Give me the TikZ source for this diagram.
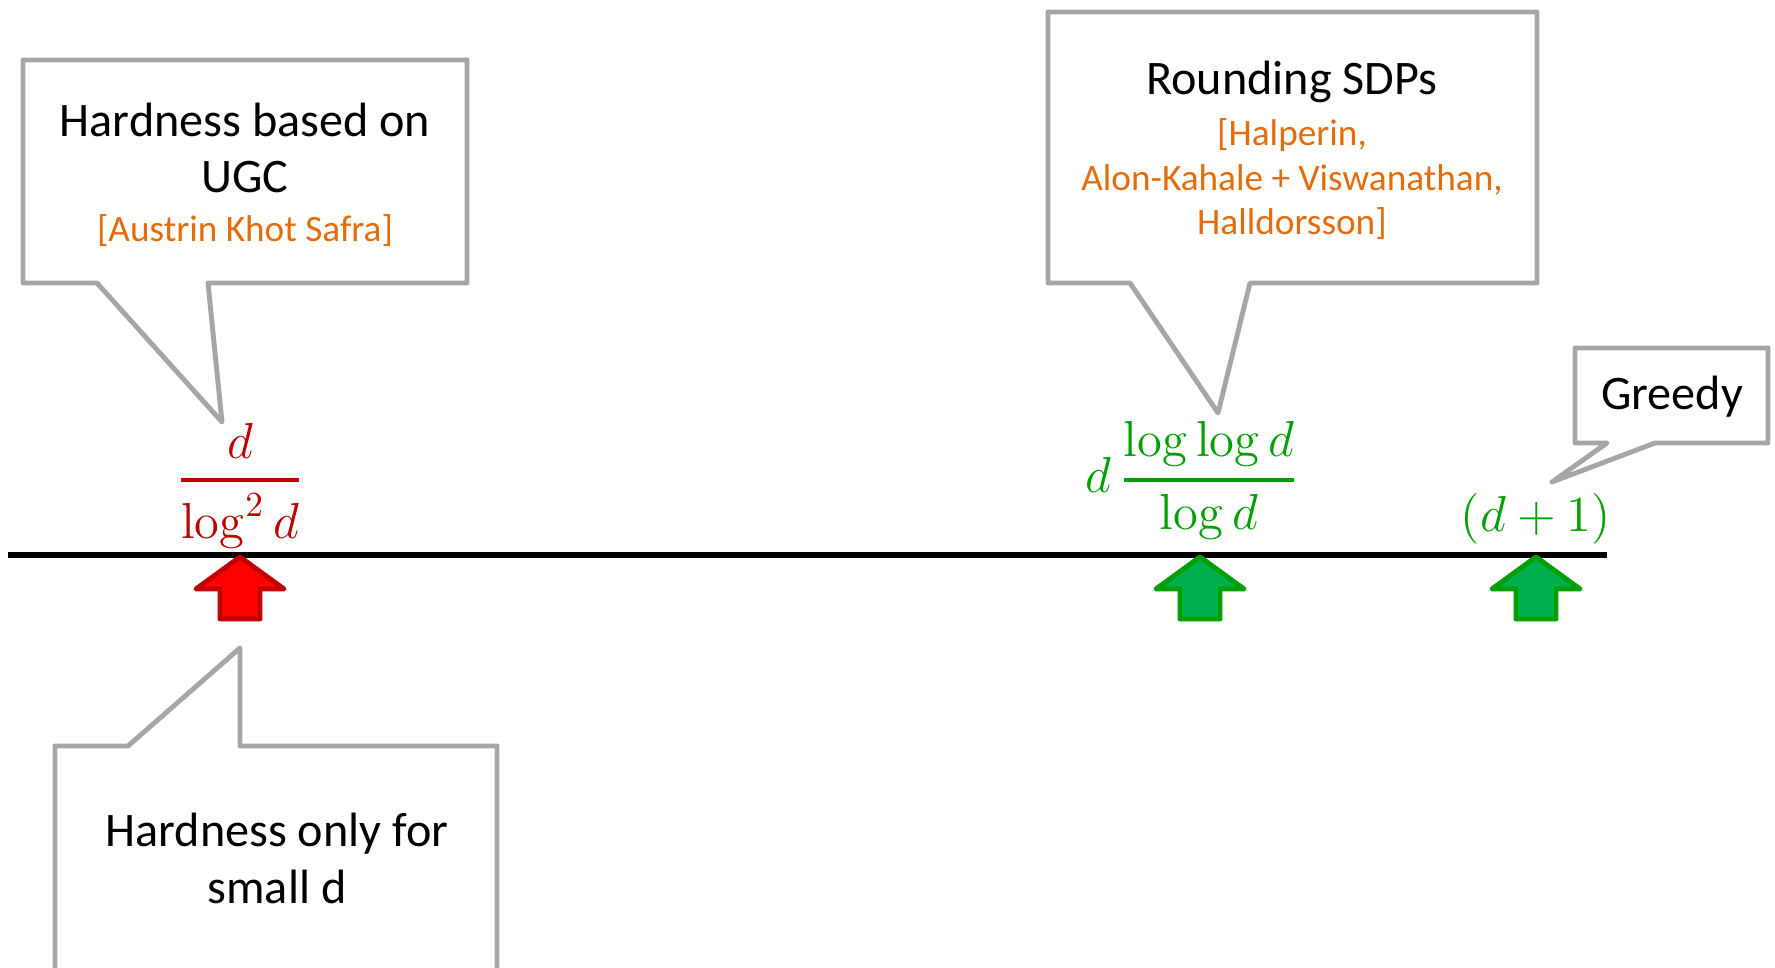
\documentclass[tikz,border=0pt]{standalone}
\usepackage{amsmath}
\usepackage[no-math]{fontspec}
\setmainfont{Carlito}
\definecolor{callgray}{HTML}{A6A6A6}
\definecolor{refor}{HTML}{E46C0A}
\definecolor{mred}{HTML}{C00000}
\definecolor{mgreen}{HTML}{00A000}
\definecolor{afillg}{HTML}{00B050}
\definecolor{alineg}{HTML}{00A000}
\definecolor{afillr}{HTML}{FF0000}
\definecolor{aliner}{HTML}{C00000}
\tikzset{
  pics/uparr/.style 2 args={code={
    \draw[line width=1.4pt, line join=round, draw=#1, fill=#2]
      (0,2) -- (44,34) -- (20,34) -- (20,64) -- (-20,64) -- (-20,34) -- (-44,34) -- cycle;
  }}
}
\begin{document}
\begin{tikzpicture}[x=0.01cm,y=-0.01cm,
  callout/.style={draw=callgray, line width=1.4pt, fill=white, line join=round},
  maintxt/.style={font=\fontsize{13.7}{16.4}\selectfont, anchor=base, inner sep=0pt},
  reftxt/.style={font=\fontsize{10.6}{12.7}\selectfont, text=refor, anchor=base, inner sep=0pt},
  mathlbl/.style={font=\fontsize{14}{17}\selectfont, anchor=base, inner sep=0pt},
  axisline/.style={line width=1.7pt, draw=black}
]
\useasboundingbox (0,0) rectangle (1775,968);
\clip (0,0) rectangle (1775,968);

% callouts
\draw[callout] (23,60) -- (467,60) -- (467,283) -- (208,283) -- (222,422) -- (97,283) -- (23,283) -- cycle;
\draw[callout] (1048,12) -- (1537,12) -- (1537,283) -- (1250,283) -- (1218,413) -- (1130,283) -- (1048,283) -- cycle;
\draw[callout] (1575,348) -- (1768,348) -- (1768,443) -- (1655,443) -- (1552,482) -- (1607,443) -- (1575,443) -- cycle;
\draw[callout] (55,746) -- (128,746) -- (240,648) -- (240,746) -- (497,746) -- (497,1000) -- (55,1000) -- cycle;

% callout texts
\node[maintxt] (h1a) at (245,137) {Hardness based on};
\node[maintxt] (h1b) at (245,193) {UGC};
\node[reftxt]  (h1c) at (245,242) {[Austrin Khot Safra]};

\node[maintxt] (r1a) at (1292,95) {Rounding SDPs};
\node[reftxt]  (r1b) at (1292,146) {[Halperin,};
\node[reftxt]  (r1c) at (1292,191) {Alon-Kahale + Viswanathan,};
\node[reftxt]  (r1d) at (1292,235) {Halldorsson]};

\node[maintxt] (g1) at (1672,410) {Greedy};

\node[maintxt] (s1a) at (277,847) {Hardness only for};
\node[maintxt] (s1b) at (277,904) {small d};

% axis
\coordinate (axL) at (8,555);
\coordinate (axR) at (1607,555);
\draw[axisline] (axL) -- (axR);

% math labels
\node[mathlbl, text=mred] (m1) at (240,493) {$\genfrac{}{}{1.1pt}{0}{d}{\log^2 d}$};
\node[mathlbl, text=mgreen] (m2) at (1192,493) {$\displaystyle d\,\genfrac{}{}{1.1pt}{0}{\log\log d}{\log d}$};
\node[mathlbl, text=mgreen] (m3) at (1536,532) {$(d+1)$};

% block arrows
\pic at (240,555) {uparr={aliner}{afillr}};
\pic at (1200,555) {uparr={alineg}{afillg}};
\pic at (1536,555) {uparr={alineg}{afillg}};
\end{tikzpicture}
\end{document}
